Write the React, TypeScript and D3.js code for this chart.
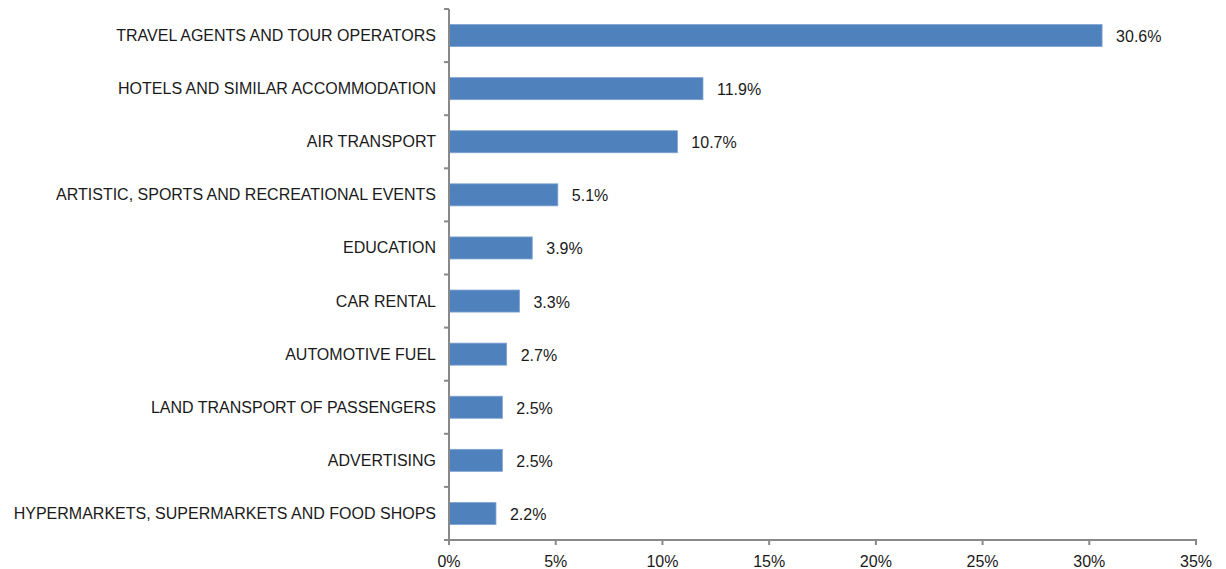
import React from "react";
import * as d3 from "d3";

const categories = [
  "TRAVEL AGENTS AND TOUR OPERATORS",
  "HOTELS AND SIMILAR ACCOMMODATION",
  "AIR TRANSPORT",
  "ARTISTIC, SPORTS AND RECREATIONAL EVENTS",
  "EDUCATION",
  "CAR RENTAL",
  "AUTOMOTIVE FUEL",
  "LAND TRANSPORT OF PASSENGERS",
  "ADVERTISING",
  "HYPERMARKETS, SUPERMARKETS AND FOOD SHOPS",
];
const values = [30.6, 11.9, 10.7, 5.1, 3.9, 3.3, 2.7, 2.5, 2.5, 2.2];
const xTicks = [0, 5, 10, 15, 20, 25, 30, 35];

const W = 1226;
const H = 569;
const left = 449;
const right = 1196;
const top = 9;
const bottom = 540;
const axisColor = "#898989";
const barColor = "#4F81BD";
const font = "'Liberation Sans', Arial, sans-serif";

export default function App() {
  const x = d3.scaleLinear().domain([0, 35]).range([left, right]);
  const y = d3.scaleBand<string>().domain(categories).range([top, bottom]).paddingInner(0.585).paddingOuter(0.2925);
  const boundaries = d3.range(categories.length + 1).map((i) => top + i * ((bottom - top) / categories.length));
  return (
    <svg width={W} height={H} style={{ position: "absolute", left: 0, top: 0, background: "#fff" }} fontFamily={font}>
      {categories.map((c, i) => (
        <g key={c}>
          <rect
            x={x(0)}
            y={y(c)!}
            width={x(values[i]) - x(0)}
            height={y.bandwidth()}
            fill={barColor}
            stroke="#7FA3D1"
            strokeWidth={0.8}
          />
          <text x={436} y={y(c)! + y.bandwidth() / 2} textAnchor="end" dominantBaseline="central" fontSize={16} fill="#1a1a1a">
            {c}
          </text>
          <text x={x(values[i]) + 14} y={y(c)! + y.bandwidth() / 2 + 1} dominantBaseline="central" fontSize={16} fill="#1a1a1a">
            {values[i].toFixed(1)}%
          </text>
        </g>
      ))}
      {/* y axis */}
      <line x1={left} x2={left} y1={top} y2={bottom} stroke={axisColor} strokeWidth={2} />
      {boundaries.map((b, i) => (
        <line key={i} x1={left - 5} x2={left} y1={b} y2={b} stroke={axisColor} strokeWidth={2} />
      ))}
      {/* x axis */}
      <line x1={left - 1} x2={right + 1} y1={bottom} y2={bottom} stroke={axisColor} strokeWidth={2} />
      {xTicks.map((t) => (
        <g key={t}>
          <line x1={x(t)} x2={x(t)} y1={bottom} y2={bottom + 5} stroke={axisColor} strokeWidth={2} />
          <text x={x(t)} y={567} textAnchor="middle" fontSize={16} fill="#1a1a1a">
            {t}%
          </text>
        </g>
      ))}
    </svg>
  );
}
